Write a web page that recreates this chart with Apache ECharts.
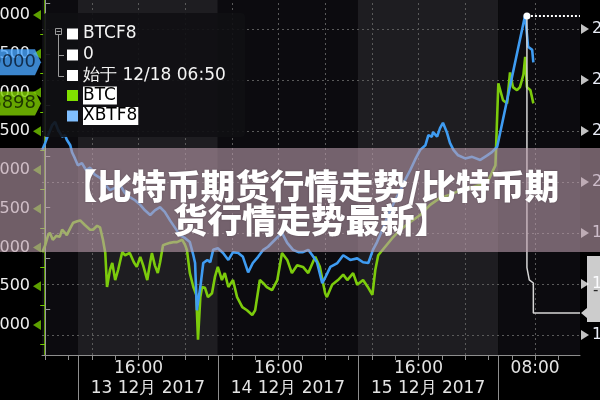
<!DOCTYPE html>
<html><head><meta charset="utf-8">
<script src="https://cdn.jsdelivr.net/npm/echarts@6/dist/echarts.min.js"></script>
<style>html,body{margin:0;padding:0;background:#000}#c{width:600px;height:400px}</style>
</head><body><div id="c"></div>
<script>
// ---------- data (hours on a trading-time axis, prices) ----------
const btcHours = [-0.5,0.0,0.5,0.8,1.3,1.9,2.5,2.9,3.4,3.7,4.3,4.8,5.5,6.0,6.8,7.7,8.2,8.9,9.4,9.9,10.3,10.6,11.1,11.5,12.0,12.5,13.2,13.7,14.0,14.5,15.2,15.7,16.3,16.8,17.5,18.0,18.3,18.8,19.3,19.7,20.2,20.9,21.4,22.1,22.6,23.5,24.0,24.3,24.8,25.4,25.9,26.2,26.6,26.9,27.4,27.9,28.6,29.1,29.6,30.3,30.8,31.4,32.2,32.9,33.8,34.6,35.5,36.0,36.8,37.4,38.0,38.9,39.8,40.6,41.5,42.3,43.2,44.2,45.1,46.3,47.1,48.0,48.3,49.2,50.2,51.1,51.8,52.8,53.5,54.5,55.4,56.1,56.6,57.1,58.3,59.5,60.9,62.6,64.3,66.0,67.7,69.4,71.2,72.9,74.6,76.0,77.2,77.7,78.0,78.5,79.2,79.7,80.2,80.9,81.4,82.0,82.3,82.6,83.2,83.7];
const btcPrices = [16940,17030,17160,17190,17100,17150,17140,17230,17190,17160,17250,17320,17340,17350,17290,17230,17230,17280,17260,17100,16930,16490,16710,16800,16580,16710,16940,16900,16880,16930,16810,16750,16880,16770,16580,16810,16930,16770,16670,16810,17030,17050,17060,17070,17070,17100,17030,16970,16670,16490,16390,15810,16360,16490,16480,16360,16410,16620,16750,16580,16670,16490,16580,16360,16230,16190,16130,16190,16580,16540,16490,16450,16580,16930,16840,16670,16770,16750,16670,16880,16750,16410,16360,16520,16580,16650,16580,16670,16520,16580,16480,16390,16710,16900,17010,17120,17230,17330,17420,17550,17640,17680,17740,17770,17810,17870,18060,19120,19120,18900,18860,19260,19070,19030,19070,19230,19460,19070,19030,18860];
const xbtHours = [-0.5,0.0,0.5,1.2,1.7,2.2,2.9,3.4,3.7,4.3,4.6,5.1,5.6,6.3,7.0,7.7,8.5,9.4,10.3,11.1,12.0,12.8,13.7,14.5,15.4,16.3,17.1,18.0,18.8,19.7,20.5,21.4,22.3,23.1,24.0,24.8,25.4,25.7,26.0,26.6,27.1,27.8,28.3,28.8,29.6,30.5,31.4,32.2,33.1,33.9,34.8,35.6,36.5,37.4,38.2,39.4,40.6,41.5,42.5,43.4,44.2,45.1,45.8,46.6,47.5,48.0,48.9,50.1,51.1,52.3,53.5,54.5,55.4,56.2,56.9,57.8,58.8,60.0,60.9,61.7,62.6,63.4,64.3,65.2,65.7,66.3,66.5,67.2,67.7,68.2,68.9,69.4,70.0,70.8,72.0,73.2,74.6,75.8,76.6,77.5,82.3,82.8,83.5,83.7];
const xbtPrices = [18260,18350,18450,18580,18620,18520,18430,18450,18390,18320,18230,18150,18060,18090,18000,18030,17940,17900,17810,17740,17770,17810,17700,17650,17610,17550,17480,17420,17480,17520,17460,17350,17250,17160,17120,17070,16900,16800,16190,16490,16800,16840,16810,16970,16990,16930,16840,16940,16930,16880,16680,16800,16880,16970,17010,17100,17190,17060,16970,16940,16940,16970,16900,16810,16540,16610,16750,16800,16900,16840,16860,16810,16800,16970,17070,17230,17420,17610,17740,17870,18000,18130,18260,18320,18450,18430,18490,18430,18540,18610,18480,18350,18260,18190,18150,18170,18130,18190,18230,18300,20000,19590,19550,19390];
const btcf8Hours = [82.6, 82.6, 83.0, 83.7, 83.7, 91.7];
const btcf8Prices = [23255, 18320, 18080, 18020, 17430, 17430];
const btcf8RefHours = [82.6, 91.7];
const btcf8RefPrices = [23255, 23255];

const leftTicks = [16000,16500,17000,17500,18000,18500,19000,19500,20000];
const rightTicks = [17000,18000,19000,20000,21000,22000,23000];
const gridHours = [0,8,16,24,32,40,48,56,64,72,84];
const minorTickHours = [0,4,8,12,16,20,24,28,32,36,40,44,48,52,56,60,64,68,72,76,80,84,88];
const timeLabelHours = [16,40,64,84];
const timeLabels = ['16:00','16:00','16:00','08:00'];
const dayStartHours = [5.6,29.6,53.6,77.7];
const dateLabelHours = [17.6,41.6,65.65];
const dateLabels = ['13 12月 2017','14 12月 2017','15 12月 2017'];
const tagTexts = { btc: '18898', xbt: '19000', btcf8: '-' };
const legendNames = ['BTCF8','0','始于 12/18 06:50','BTC','XBTF8'];
const legendIconColors = ['#ffffff','#ffffff','#ffffff','#80e000','#80bfff'];
const bannerLines = ['【比特币期货行情走势/比特币期','货行情走势最新】'];

// ---------- build ----------
const X_MIN = -0.55, X_MAX = 91.7;
const GREEN = '#7ccb0c', BLUE = '#3f9cf2';
function pairs(xs, ys){ const n=Math.min(xs.length, ys.length); const o=[]; for(let i=0;i<n;i++) o.push([xs[i], ys[i]]); return o; }
function pick(list, labels, v){ const i = list.findIndex(h => Math.abs(h - v) < 1e-6); return i >= 0 ? labels[i] : ''; }
const btcData = pairs(btcHours, btcPrices);
const xbtData = pairs(xbtHours, xbtPrices);
const btcf8Data = pairs(btcf8Hours, btcf8Prices);
const refData = pairs(btcf8RefHours, btcf8RefPrices);

const DARK = '#0c0b0f', LIGHT = '#1e1d21';
const bandEdges = [X_MIN].concat(dayStartHours, [X_MAX]);
const bands = [];
for (let i = 0; i < bandEdges.length - 1; i++) {
  bands.push([{ xAxis: bandEdges[i], itemStyle: { color: i % 2 ? LIGHT : DARK } }, { xAxis: bandEdges[i+1] }]);
}
const gridLineData = gridHours.map(h => ({ xAxis: h })).concat(rightTicks.map(v => ({ yAxis: v })));

const font = 'DejaVu Sans';
const chart = echarts.init(document.getElementById('c'), null, { width: 600, height: 400 });

const legendGraphics = [
  { type: 'rect', shape: { x: 43, y: 13, width: 202, height: 124, r: 4 }, style: { fill: 'rgba(16,15,19,0.9)' }, z: 50 },
  { type: 'rect', shape: { x: 55.5, y: 28.5, width: 6, height: 6 }, style: { fill: 'none', stroke: '#9a9a9a', lineWidth: 1 }, z: 51 },
  { type: 'line', shape: { x1: 56.5, y1: 31.5, x2: 60.5, y2: 31.5 }, style: { stroke: '#9a9a9a', lineWidth: 1 }, z: 51 },
  { type: 'line', shape: { x1: 58.5, y1: 34.5, x2: 58.5, y2: 76.5 }, style: { stroke: '#9a9a9a', lineWidth: 1 }, z: 51 },
  { type: 'line', shape: { x1: 58.5, y1: 55.5, x2: 64, y2: 55.5 }, style: { stroke: '#9a9a9a', lineWidth: 1 }, z: 51 },
  { type: 'line', shape: { x1: 58.5, y1: 76.5, x2: 64, y2: 76.5 }, style: { stroke: '#9a9a9a', lineWidth: 1 }, z: 51 }
];
const rowY = [34, 55, 75.5, 95.5, 116];
legendNames.forEach((name, i) => {
  legendGraphics.push({ type: 'rect', shape: { x: 67, y: rowY[i] - 5.5, width: 11, height: 11 }, style: { fill: legendIconColors[i] }, z: 51 });
  const hi = i >= 3;
  legendGraphics.push({ type: 'text', x: 83, y: rowY[i], z: 52, style: {
    text: name, fill: hi ? '#000' : '#f4f4f4', fontSize: 17, fontFamily: font, verticalAlign: 'middle',
    backgroundColor: hi ? '#ffffff' : null, padding: hi ? [1, 1, 0, 0] : 0 } });
});

const bannerStyle = { fill: '#ffffff', fontSize: 34.5, fontWeight: 900, fontFamily: 'Noto Sans CJK SC', align: 'center', verticalAlign: 'middle', textShadowColor: 'rgba(0,0,0,0.25)', textShadowBlur: 2 };
const bannerGraphics = [
  { type: 'rect', shape: { x: 0, y: 148, width: 600, height: 104 }, style: { fill: 'rgba(187,157,172,0.6)' }, z: 100 },
  { type: 'text', x: 311, y: 186, z: 101, style: Object.assign({ text: bannerLines[0] }, bannerStyle) },
  { type: 'text', x: 311, y: 220, z: 101, style: Object.assign({ text: bannerLines[1] }, bannerStyle) }
];

const option = {
  backgroundColor: '#000000',
  animation: false,
  grid: { left: 42, right: 20, top: 0, bottom: 45, containLabel: false, outerBoundsMode: 'none' },
  xAxis: [
    { type: 'value', position: 'bottom', min: X_MIN, max: X_MAX, z: 3,
      axisLine: { show: true, lineStyle: { color: '#8e8e8e', width: 1 } },
      axisTick: { show: true, customValues: minorTickHours, length: 5, lineStyle: { color: '#8e8e8e' } },
      axisLabel: { customValues: timeLabelHours, formatter: v => pick(timeLabelHours, timeLabels, v), color: '#e4e4e4', fontSize: 17, fontFamily: font, margin: 5 },
      splitLine: { show: false } },
    { type: 'value', position: 'bottom', offset: 0, min: X_MIN, max: X_MAX, z: 3,
      axisLine: { show: false },
      axisTick: { show: true, customValues: dayStartHours, length: 45, lineStyle: { color: '#8e8e8e' } },
      axisLabel: { customValues: dateLabelHours, formatter: v => pick(dateLabelHours, dateLabels, v), color: '#e4e4e4', fontSize: 17, fontFamily: font, margin: 25 },
      splitLine: { show: false } }
  ],
  yAxis: [
    { type: 'value', position: 'left', min: 15613, max: 20194, splitNumber: 9, z: 3,
      axisLine: { show: true, lineStyle: { color: '#74c800', width: 1.5 } },
      axisTick: { show: false },
      minorTick: { show: true, splitNumber: 2, length: 5, lineStyle: { color: '#74c800' } },
      axisLabel: { color: '#eeeeee', fontSize: 16, fontFamily: font, margin: 12, showMinLabel: false, showMaxLabel: false, formatter: v => String(v) },
      splitLine: { show: false } },
    { type: 'value', position: 'right', min: 16608, max: 23569, splitNumber: 7, z: 3,
      axisLine: { show: true, lineStyle: { color: '#9a9a9a', width: 1 } },
      axisTick: { show: false },
      minorTick: { show: true, splitNumber: 2, length: 5, lineStyle: { color: '#9a9a9a' } },
      axisLabel: { color: '#e8ecf6', fontSize: 16, fontFamily: font, margin: 12, showMinLabel: false, showMaxLabel: false, formatter: v => String(v) },
      splitLine: { show: false } }
  ],
  series: [
    { type: 'line', name: 'frame', xAxisIndex: 0, yAxisIndex: 1, data: [], silent: true, z: 0,
      markArea: { silent: true, z: 0, data: bands },
      markLine: { silent: true, z: 1, symbol: ['none', 'none'], label: { show: false },
        lineStyle: { type: [2, 3], color: '#5a5a5a', width: 1 }, emphasis: { disabled: true }, data: gridLineData } },
    { type: 'line', name: 'BTC', data: btcData, yAxisIndex: 0, showSymbol: false, z: 4,
      lineStyle: { color: GREEN, width: 2.6 }, itemStyle: { color: GREEN } },
    { type: 'line', name: 'XBTF8', data: xbtData, yAxisIndex: 0, showSymbol: false, connectNulls: true, z: 5,
      lineStyle: { color: BLUE, width: 2.6 }, itemStyle: { color: BLUE } },
    { type: 'line', name: 'BTCF8', data: btcf8Data, yAxisIndex: 1, showSymbol: false, z: 6,
      lineStyle: { color: '#d6d6d6', width: 1.5 } },
    { type: 'line', name: 'BTCF8 ref', yAxisIndex: 1, z: 6, showSymbol: true, symbol: 'none',
      data: refData.map((p, i) => i === 0 ? { value: p, symbol: 'circle', symbolSize: 7 } : { value: p }),
      itemStyle: { color: '#ffffff' }, lineStyle: { color: '#ffffff', width: 2, type: [2, 2] } },
    { type: 'scatter', yAxisIndex: 0, clip: false, silent: true, z: 8,
      data: leftTicks.map(v => [X_MIN, v]), symbol: 'triangle', symbolSize: [10, 8], symbolRotate: 90, symbolOffset: [-5, 0],
      itemStyle: { color: '#74c800' } },
    { type: 'scatter', yAxisIndex: 1, clip: false, silent: true, z: 8,
      data: rightTicks.map(v => [X_MAX, v]), symbol: 'triangle', symbolSize: [10, 8], symbolRotate: -90, symbolOffset: [5, 0],
      itemStyle: { color: '#f2f2f2' } },
    { type: 'scatter', yAxisIndex: 0, clip: false, silent: true, z: 9,
      data: [[X_MIN, btcPrices[btcPrices.length - 1]]],
      symbol: 'path://M0,0 L54,0 L60,12 L54,24 L0,24 Z', symbolKeepAspect: false, symbolSize: [60, 24], symbolOffset: [-31, 0],
      itemStyle: { color: '#80d000' },
      label: { show: true, position: 'insideRight', distance: 5, formatter: tagTexts.btc, color: '#0b1a00', fontSize: 18, fontFamily: font } },
    { type: 'scatter', yAxisIndex: 0, clip: false, silent: true, z: 9,
      data: [[X_MIN, xbtPrices[xbtPrices.length - 1]]],
      symbol: 'path://M0,0 L54,0 L60,13 L54,26 L0,26 Z', symbolKeepAspect: false, symbolSize: [60, 26], symbolOffset: [-31, 0],
      itemStyle: { color: '#4aa6ff' },
      label: { show: true, position: 'insideRight', distance: 5, formatter: tagTexts.xbt, color: '#06162c', fontSize: 18, fontFamily: font } },
    { type: 'scatter', yAxisIndex: 1, clip: false, silent: true, z: 9,
      data: [[X_MAX, btcf8Prices[btcf8Prices.length - 1]]],
      symbol: 'path://M6,0 L40,0 L40,66 L6,66 L6,62 L0,57 L6,52 Z', symbolKeepAspect: false, symbolSize: [40, 66], symbolOffset: [21, -24],
      itemStyle: { color: '#ffffff' },
      label: { show: true, position: [12, 28], formatter: tagTexts.btcf8, color: '#000', fontSize: 15, fontFamily: font } }
  ],
  graphic: legendGraphics.concat(bannerGraphics)
};
chart.setOption(option);
</script>
</body></html>
